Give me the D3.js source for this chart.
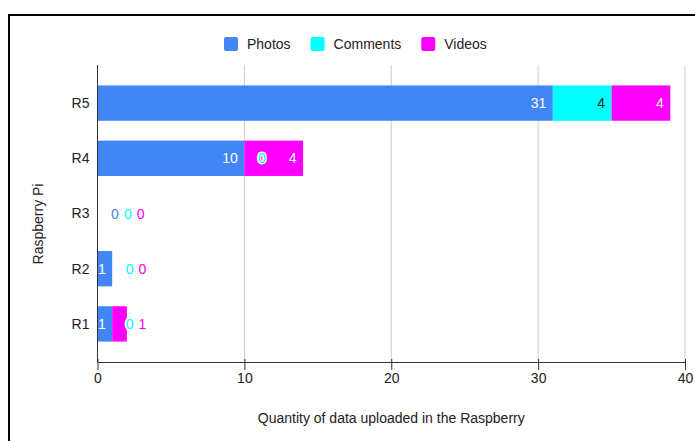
<!DOCTYPE html>
<html>
<head>
<meta charset="utf-8">
<script src="https://cdn.jsdelivr.net/npm/d3@7"></script>
<style>
  html, body { margin: 0; padding: 0; background: #fff; }
  svg { display: block; font-family: Arial, "Liberation Sans", sans-serif; }
</style>
</head>
<body>
<svg id="chart" width="695" height="441"></svg>
<script>
// ---- data ----
const categories = ["R5", "R4", "R3", "R2", "R1"];
const seriesNames = ["Photos", "Comments", "Videos"];
const photos   = [31, 10, 0, 1, 1];
const comments = [4, 0, 0, 0, 0];
const videos   = [4, 4, 0, 0, 1];
const xTicks = [0, 10, 20, 30, 40];
const xTitle = "Quantity of data uploaded in the Raspberry";
const yTitle = "Raspberry Pi";
// labels that the reference draws beside the bar rather than inside it
const outsideLabels = [["R1", "Videos"]];

const colors = { Photos: "#4285f4", Comments: "#00ffff", Videos: "#ff00ff" };
const insideText = { Photos: "#ffffff", Comments: "#222222", Videos: "#ffffff" };

const rows = categories.map((c, i) => ({ cat: c, Photos: photos[i], Comments: comments[i], Videos: videos[i] }));

const svg = d3.select("#chart");

// frame
svg.append("rect").attr("x", 9).attr("y", 15).attr("width", 720).attr("height", 460)
  .attr("fill", "none").attr("stroke", "#000").attr("stroke-width", 2);

const plot = { left: 97.5, right: 685, top: 65, bottom: 362 };

const x = d3.scaleLinear().domain([0, 40]).range([plot.left, plot.right]);
const y = d3.scaleBand().domain(categories).range([75.5, 351.5]).paddingInner(0.36).paddingOuter(0.18);

// gridlines
svg.append("g").selectAll("line").data(xTicks.filter(t => t > 0)).join("line")
  .attr("x1", d => x(d)).attr("x2", d => x(d))
  .attr("y1", plot.top).attr("y2", plot.bottom)
  .attr("stroke", "#cccccc").attr("stroke-width", 1);

// stacked bars
const stack = d3.stack().keys(seriesNames)(rows);
const barG = svg.append("g");
stack.forEach(layer => {
  barG.selectAll(null).data(layer).join("rect")
    .attr("x", d => x(d[0]))
    .attr("y", d => y(d.data.cat))
    .attr("width", d => Math.max(0, x(d[1]) - x(d[0])))
    .attr("height", y.bandwidth())
    .attr("fill", colors[layer.key]);
});

// y axis line
svg.append("line").attr("x1", x(0)).attr("x2", x(0)).attr("y1", plot.top).attr("y2", plot.bottom)
  .attr("stroke", "#333").attr("stroke-width", 1);

// x axis
const xAxis = d3.axisBottom(x).tickValues(xTicks).tickSizeInner(8).tickSizeOuter(0).tickPadding(10);
const xg = svg.append("g").attr("transform", `translate(0,${plot.bottom})`).call(xAxis);
xg.select(".domain").attr("stroke", "#333");
xg.selectAll(".tick line").attr("stroke", "#333").attr("y1", -3).attr("y2", 8);
xg.selectAll(".tick text").attr("font-size", 14).attr("fill", "#222")
  .attr("font-family", "Arial, 'Liberation Sans', sans-serif").attr("y", 21).attr("dy", "0");

// y axis labels
const yAxis = d3.axisLeft(y).tickSize(0).tickPadding(8);
const yg = svg.append("g").attr("transform", `translate(${x(0)},0)`).call(yAxis);
yg.select(".domain").remove();
yg.selectAll(".tick text").attr("font-size", 14).attr("fill", "#222")
  .attr("font-family", "Arial, 'Liberation Sans', sans-serif").attr("dy", "0.35em");

// titles
svg.append("text").attr("x", (plot.left + plot.right) / 2).attr("y", 423)
  .attr("text-anchor", "middle").attr("font-size", 14).attr("fill", "#222").text(xTitle);
svg.append("text").attr("transform", `translate(43,224) rotate(-90)`)
  .attr("text-anchor", "middle").attr("font-size", 14).attr("fill", "#222").text(yTitle);

// legend
const legend = svg.append("g");
let lx = 224;
seriesNames.forEach(name => {
  legend.append("rect").attr("x", lx).attr("y", 37).attr("width", 14).attr("height", 14)
    .attr("rx", 2).attr("fill", colors[name]);
  const t = legend.append("text").attr("x", lx + 23).attr("y", 49).attr("font-size", 14)
    .attr("fill", "#222").text(name);
  lx += 23 + t.node().getComputedTextLength() + 20;
});

// value labels
const labG = svg.append("g").attr("font-size", 14);
const isForcedOut = (cat, key) => outsideLabels.some(o => o[0] === cat && o[1] === key);
rows.forEach(row => {
  const cy = y(row.cat) + y.bandwidth() / 2 + 5;
  const placed = [];  // outside labels [left,right]
  let start = 0;
  seriesNames.forEach(key => {
    const v = row[key];
    const s = start, e = start + v;
    start = e;
    const txt = String(v);
    const tmp = labG.append("text").text(txt);
    const w = tmp.node().getComputedTextLength();
    tmp.remove();
    const segW = x(e) - x(s);
    if (v > 0 && segW >= w + 6 && !isForcedOut(row.cat, key)) {
      labG.append("text").attr("x", x(e) - 6.5).attr("y", cy).attr("text-anchor", "end")
        .attr("fill", insideText[key]).text(txt);
    } else {
      let c = x(s) + 17.5;
      placed.forEach(p => { if (c - w / 2 < p[1] + 5 && c + w / 2 > p[0] - 5) c = p[1] + 5 + w / 2; });
      placed.push([c - w / 2, c + w / 2]);
      labG.append("text").attr("x", c).attr("y", cy).attr("text-anchor", "middle")
        .attr("fill", colors[key]).attr("stroke", "#fff").attr("stroke-width", 3)
        .attr("paint-order", "stroke").attr("stroke-linejoin", "round").text(txt);
    }
  });
});
</script>
</body>
</html>
